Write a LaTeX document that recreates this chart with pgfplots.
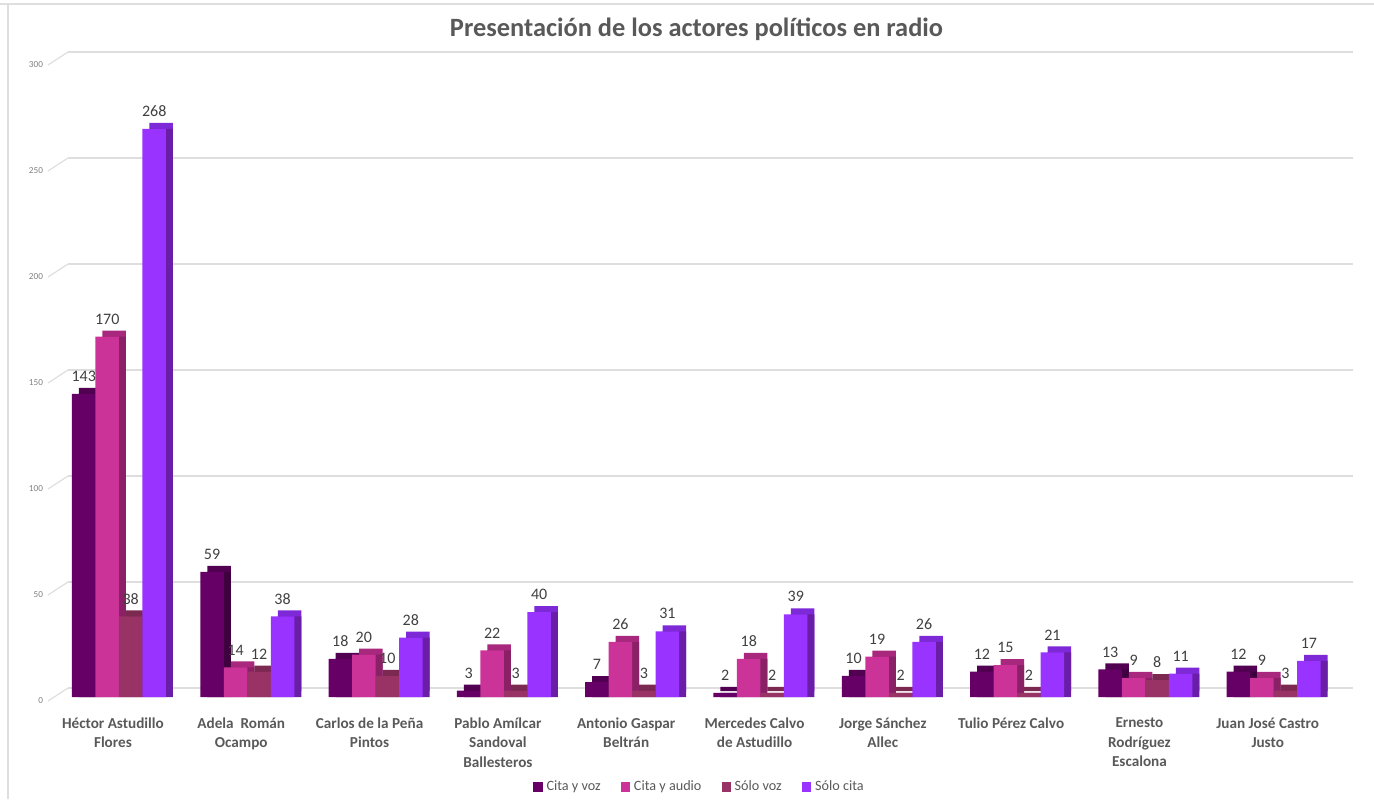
\documentclass[border=0pt]{standalone}
\usepackage{fontspec}
\setmainfont{Carlito}
\usepackage{pgfplots}
\usepackage{pgfplotstable}
\pgfplotsset{compat=1.18}

% front / top / side colours of the four series
\definecolor{cvF}{HTML}{660066}\definecolor{cvT}{HTML}{520052}\definecolor{cvS}{HTML}{3E003E}
\definecolor{caF}{HTML}{CC3399}\definecolor{caT}{HTML}{A8287E}\definecolor{caS}{HTML}{8A2166}
\definecolor{svF}{HTML}{993366}\definecolor{svT}{HTML}{7C2952}\definecolor{svS}{HTML}{662040}
\definecolor{scF}{HTML}{9933FF}\definecolor{scT}{HTML}{7E29D8}\definecolor{scS}{HTML}{6A1EA8}
\definecolor{txt}{HTML}{595959}
\definecolor{lbl}{HTML}{404040}
\definecolor{gridc}{HTML}{DEDEDE}

\pgfplotstableread{
x cv ca sv sc
0 143 170 38 268
1 59 14 12 38
2 18 20 10 28
3 3 22 3 40
4 7 26 3 31
5 2 18 2 39
6 10 19 2 26
7 12 15 2 21
8 13 9 8 11
9 12 9 3 17
}\datatable

\begin{document}
\begin{tikzpicture}
\path[use as bounding box] (-29pt,-51pt) rectangle (658pt,348.5pt);
\draw[gridc, line width=0.6pt] (-29pt,346.5pt) -- (658pt,346.5pt);
\draw[gridc, line width=0.6pt] (-25pt,-51pt) -- (-25pt,346.5pt);
\begin{axis}[
    at={(0,0)}, anchor=south west,
    scale only axis,
    width=642.5pt, height=318pt,
    xmin=-0.475, xmax=9.54,
    ymin=0, ymax=300,
    ybar, bar width=11.75pt,
    clip=false,
    axis line style={draw=none},
    major tick length=0pt,
    ytick={0,50,...,300},
    ymajorgrids=true,
    major grid style={draw=gridc, line width=0.6pt, xshift=5pt, yshift=4.5pt},
    yticklabel style={font=\fontsize{4.6}{5}\selectfont, text=gray, anchor=east, xshift=-4pt, yshift=-2pt},
    /pgf/number format/assume math mode=true,
    xtick={0,...,9},
    xticklabels={
        {Héctor Astudillo\\Flores},
        {Adela\ \ Román\\Ocampo},
        {Carlos de la Peña\\Pintos},
        {Pablo Amílcar\\Sandoval\\Ballesteros},
        {Antonio Gaspar\\Beltrán},
        {Mercedes Calvo\\de Astudillo},
        {Jorge Sánchez\\Allec},
        {Tulio Pérez Calvo},
        {Ernesto\\Rodríguez\\Escalona},
        {Juan José Castro\\Justo}},
    xticklabel style={font=\bfseries\fontsize{7.6}{9.6}\selectfont, text=txt, align=center, anchor=north, xshift=-3pt, yshift=-7pt},
    title={Presentación de los actores políticos en radio},
    title style={font=\bfseries\fontsize{13.2}{15}\selectfont, text=txt, at={(0.5,1)}, anchor=center, yshift=10pt, xshift=-2pt},
    legend columns=4,
    legend style={at={(0.5,0)}, anchor=center, yshift=-45pt, draw=none, fill=none,
        font=\fontsize{7.1}{8}\selectfont, text=txt,
        /tikz/every even column/.append style={column sep=8pt}},
    legend image code/.code={\fill[#1] (0pt,-2.3pt) rectangle (4.6pt,2.3pt);},
    nodes near coords style={font=\fontsize{8}{9}\selectfont, text=lbl, anchor=south, yshift=2.6pt},
]
% diagonal ends of the grid lines
\pgfplotsinvokeforeach{0,50,...,300}{
    \draw[gridc, line width=0.6pt] ([xshift=5pt,yshift=4.5pt]rel axis cs:0,#1/300) -- ++(-10pt,-6.5pt);
}
% top and side faces (shifted back)
\addplot[fill=cvT, draw=none, bar shift=-14.125pt, yshift=3pt, forget plot] table[x=x,y=cv]{\datatable};
\addplot[fill=cvS, draw=none, bar shift=-14.125pt, forget plot] table[x=x,y=cv]{\datatable};
\addplot[fill=caT, draw=none, bar shift=-2.375pt, yshift=3pt, forget plot] table[x=x,y=ca]{\datatable};
\addplot[fill=caS, draw=none, bar shift=-2.375pt, forget plot] table[x=x,y=ca]{\datatable};
\addplot[fill=svT, draw=none, bar shift=9.375pt, yshift=3pt, forget plot] table[x=x,y=sv]{\datatable};
\addplot[fill=svS, draw=none, bar shift=9.375pt, forget plot] table[x=x,y=sv]{\datatable};
\addplot[fill=scT, draw=none, bar shift=21.125pt, yshift=3pt, forget plot] table[x=x,y=sc]{\datatable};
\addplot[fill=scS, draw=none, bar shift=21.125pt, forget plot] table[x=x,y=sc]{\datatable};
% front faces
\addplot[fill=cvF, draw=none, bar shift=-17.625pt] table[x=x,y=cv]{\datatable};
\addlegendentry{Cita y voz}
\addplot[fill=caF, draw=none, bar shift=-5.875pt] table[x=x,y=ca]{\datatable};
\addlegendentry{Cita y audio}
\addplot[fill=svF, draw=none, bar shift=5.875pt] table[x=x,y=sv]{\datatable};
\addlegendentry{Sólo voz}
\addplot[fill=scF, draw=none, bar shift=17.625pt] table[x=x,y=sc]{\datatable};
\addlegendentry{Sólo cita}
% value labels on top
\addplot[draw=none, fill=none, bar shift=-17.625pt, nodes near coords, forget plot] table[x=x,y=cv]{\datatable};
\addplot[draw=none, fill=none, bar shift=-5.875pt, nodes near coords, forget plot] table[x=x,y=ca]{\datatable};
\addplot[draw=none, fill=none, bar shift=5.875pt, nodes near coords, forget plot] table[x=x,y=sv]{\datatable};
\addplot[draw=none, fill=none, bar shift=17.625pt, nodes near coords, forget plot] table[x=x,y=sc]{\datatable};
\end{axis}
\end{tikzpicture}
\end{document}
